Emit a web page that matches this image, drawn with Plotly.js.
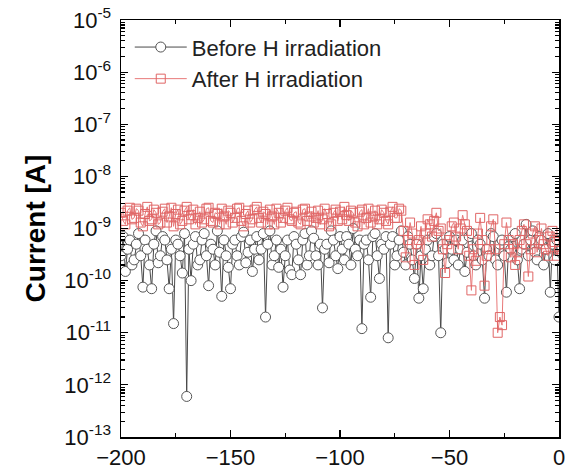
<!DOCTYPE html>
<html>
<head>
<meta charset="utf-8">
<script src="https://cdn.plot.ly/plotly-3.0.1.min.js"></script>
<style>html,body{margin:0;padding:0;background:#fff;}#chart{width:566px;height:472px;}</style>
</head>
<body>
<div id="chart"></div>
<script>
// Voltage sweep: first point and step (points are placed by Plotly's x0/dx)
const startVoltage = -200;
const stepVoltage = 1;
// Current [A], one value per volt from -200 V to 0 V
const beforeH = [
  3e-10,7e-10,1.5e-10,4e-10,6e-10,2e-10,2.5e-10,5e-10,8e-10,3e-10,
  7.5e-11,6e-10,4e-10,2e-10,7e-11,5e-10,9e-10,2.2e-10,3e-10,7e-10,
  6e-10,2.5e-10,7e-11,4e-10,1.5e-11,6e-10,5e-10,3e-10,1.4e-10,8e-10,
  6e-13,4e-10,1e-10,5e-10,7e-10,2e-10,2.5e-10,6e-10,8e-10,3e-10,
  8e-11,5e-10,4e-10,2e-10,9e-10,3.5e-10,5e-11,6e-10,3e-10,1.8e-10,
  7e-11,5e-10,6e-10,3e-10,2e-10,7e-10,8.5e-10,2.2e-10,3.5e-10,6e-10,
  1.5e-10,4e-10,7e-10,2.5e-10,4e-10,8e-10,2e-11,5e-10,9e-10,2e-10,
  3e-10,6e-10,1.8e-10,4e-10,7.5e-11,3e-10,6e-10,1.6e-10,1.3e-10,7e-10,
  5e-10,2.5e-10,1.3e-10,6e-10,8e-10,2e-10,3e-10,9e-10,6.5e-10,3e-10,
  2e-10,5e-10,3e-11,4e-10,5e-10,2.2e-10,9e-10,6e-10,3e-10,1.7e-10,
  7e-10,4e-10,2.5e-10,7e-10,5e-10,2e-10,1e-9,4e-10,3e-10,6e-10,
  1.2e-11,5e-10,6e-10,2.5e-10,4.8e-11,7e-10,8e-10,3e-10,1.1e-10,5e-10,
  4e-10,7e-10,8e-12,5e-10,7e-10,2e-10,3e-10,6e-10,9e-10,3.5e-10,
  2e-10,7e-10,5e-10,2.5e-10,1.1e-10,5e-10,4.6e-11,3e-10,7e-11,4e-10,
  6e-10,2e-10,3e-10,7e-10,8e-10,3e-10,1e-11,5e-10,4e-10,2.2e-10,
  7e-10,4e-10,2.5e-10,6e-10,2e-10,4e-10,6e-10,1.5e-10,3.5e-10,7e-10,
  8e-10,3e-10,2e-10,6e-10,5e-10,2.5e-10,4.6e-11,4e-10,3e-10,8e-10,
  7e-10,2.5e-10,2e-10,5e-10,6e-10,3e-10,6e-11,4.5e-10,4e-10,7e-10,
  8e-10,2.5e-10,7e-11,4e-10,5e-10,1.2e-9,3e-10,6e-10,9e-10,3.5e-10,
  2.5e-10,7e-10,6e-10,2e-10,4e-10,8e-10,6e-11,5e-10,2.5e-10,6e-10,
  2e-11
];
const afterH = [
  2e-9,1.4e-9,1.2e-9,2.2e-9,2.5e-9,1.5e-9,1.6e-9,2.4e-9,2.2e-9,1.3e-9,
  1.1e-9,1.9e-9,2.6e-9,1.4e-9,1.5e-9,2.3e-9,2e-9,1.2e-9,1.3e-9,2.1e-9,
  2.4e-9,1.3e-9,1.7e-9,2.5e-9,1.1e-9,1.9e-9,2.3e-9,1.2e-9,1.4e-9,2.2e-9,
  2.6e-9,1.5e-9,1.8e-9,2.3e-9,1.2e-9,1.6e-9,2.1e-9,1.3e-9,1.5e-9,2.4e-9,
  2.5e-9,1.4e-9,1.3e-9,2e-9,1.9e-9,1.2e-9,2.4e-9,1.7e-9,1.2e-9,2.2e-9,
  2e-9,1.3e-9,1.6e-9,2.4e-9,2.5e-9,1.4e-9,1.1e-9,1.9e-9,2.2e-9,1.3e-9,
  1.5e-9,2.3e-9,2.6e-9,1.6e-9,1.3e-9,2.1e-9,1.9e-9,1.2e-9,2.3e-9,1.7e-9,
  1.2e-9,2.4e-9,2e-9,1.3e-9,1.6e-9,2.2e-9,2.5e-9,1.5e-9,1.4e-9,2e-9,
  2.1e-9,1.3e-9,1.2e-9,2.3e-9,2.4e-9,1.4e-9,1.7e-9,2.1e-9,1.3e-9,1.6e-9,
  2.2e-9,1.2e-9,1.5e-9,2.4e-9,1.9e-9,1.1e-9,1.2e-9,2e-9,2.3e-9,1.4e-9,
  2.1e-9,1.5e-9,2.6e-9,1.8e-9,1.4e-9,2.2e-9,2e-9,1.3e-9,1.1e-9,2.1e-9,
  2.3e-9,1.2e-9,1.6e-9,2.4e-9,1.3e-9,1.7e-9,2.2e-9,1.2e-9,1.5e-9,2.3e-9,
  2e-9,1.4e-9,1.2e-9,2.1e-9,2.6e-9,1.6e-9,1.6e-9,2.4e-9,2.2e-9,9e-10,
  2.8e-10,6e-10,1.3e-9,8e-10,2e-10,5e-10,6e-10,1.1e-9,2.5e-10,8e-10,
  1.5e-9,1.2e-9,7e-10,1.4e-9,2e-9,9e-10,1e-9,4e-10,1.4e-10,5e-10,
  6e-10,1.1e-9,1.3e-9,7e-10,4e-10,1e-9,1.8e-9,1.2e-9,9e-10,3e-10,
  6.5e-11,4e-10,2.4e-10,8e-10,1.6e-9,6e-10,8e-11,3e-10,4e-10,1.1e-9,
  1.5e-9,4e-10,1e-11,2e-11,1.4e-11,5e-10,1.3e-9,6e-10,2.8e-10,5e-10,
  2e-10,3.5e-10,6e-10,9e-10,1.2e-9,5e-10,1.2e-10,4e-10,8e-10,1.1e-9,
  3.5e-10,6e-10,1e-9,5e-10,4e-10,3e-10,7e-10,9e-10,5.5e-10,3e-10,
  4e-10
];
const yTickVals = [1e-13,1e-12,1e-11,1e-10,1e-9,1e-8,1e-7,1e-6,1e-5];
const yTickText = ['10<sup>-13</sup>','10<sup>-12</sup>','10<sup>-11</sup>','10<sup>-10</sup>','10<sup>-9</sup>','10<sup>-8</sup>','10<sup>-7</sup>','10<sup>-6</sup>','10<sup>-5</sup>'];
const seriesNames = ['Before H irradiation','After H irradiation'];

const traces = [
  {
    x0: startVoltage, dx: stepVoltage, y: beforeH, name: seriesNames[0], type: 'scatter', mode: 'lines+markers',
    line: {color: '#4a4a4a', width: 1},
    marker: {symbol: 'circle', size: 10, color: '#ffffff', line: {width: 1, color: '#555555'}}
  },
  {
    x0: startVoltage, dx: stepVoltage, y: afterH, name: seriesNames[1], type: 'scatter', mode: 'lines+markers',
    line: {color: '#e87878', width: 1},
    marker: {symbol: 'square-open', size: 9, color: '#e06666', line: {width: 1, color: '#e06666'}}
  }
];

const layout = {
  width: 566, height: 472,
  margin: {l: 121, r: 7, t: 20, b: 35},
  paper_bgcolor: '#fff', plot_bgcolor: '#fff',
  font: {family: '"Liberation Sans", Arial, sans-serif', color: '#111', size: 22},
  showlegend: true,
  legend: {x: 0.02, y: 0.985, xanchor: 'left', yanchor: 'top', bgcolor: 'rgba(0,0,0,0)',
           itemwidth: 52, font: {size: 22, color: '#222'}},
  xaxis: {
    range: [-200, 0], tickmode: 'linear', tick0: -200, dtick: 50,
    ticks: 'inside', ticklen: 7, tickwidth: 1.2, tickcolor: '#000',
    minor: {dtick: 25, ticks: 'inside', ticklen: 4, tickcolor: '#000', showgrid: false},
    showline: true, linecolor: '#000', linewidth: 1.5, mirror: 'allticks',
    showgrid: false, zeroline: false,
    tickfont: {size: 22, color: '#111'}
  },
  yaxis: {
    type: 'log', range: [-13, -5],
    tickmode: 'array', tickvals: yTickVals, ticktext: yTickText,
    ticks: 'inside', ticklen: 7, tickwidth: 1.2, tickcolor: '#000',
    ticklabelstandoff: 4,
    minor: {dtick: 'D1', ticks: 'inside', ticklen: 4, tickcolor: '#000', showgrid: false},
    showline: true, linecolor: '#000', linewidth: 1.5, mirror: 'allticks',
    showgrid: false, zeroline: false,
    tickfont: {size: 22, color: '#111'},
    title: {text: '<b>Current [A]</b>', font: {size: 28, color: '#000'}, standoff: 10}
  }
};

Plotly.newPlot('chart', traces, layout, {staticPlot: true, displayModeBar: false});
</script>
</body>
</html>
